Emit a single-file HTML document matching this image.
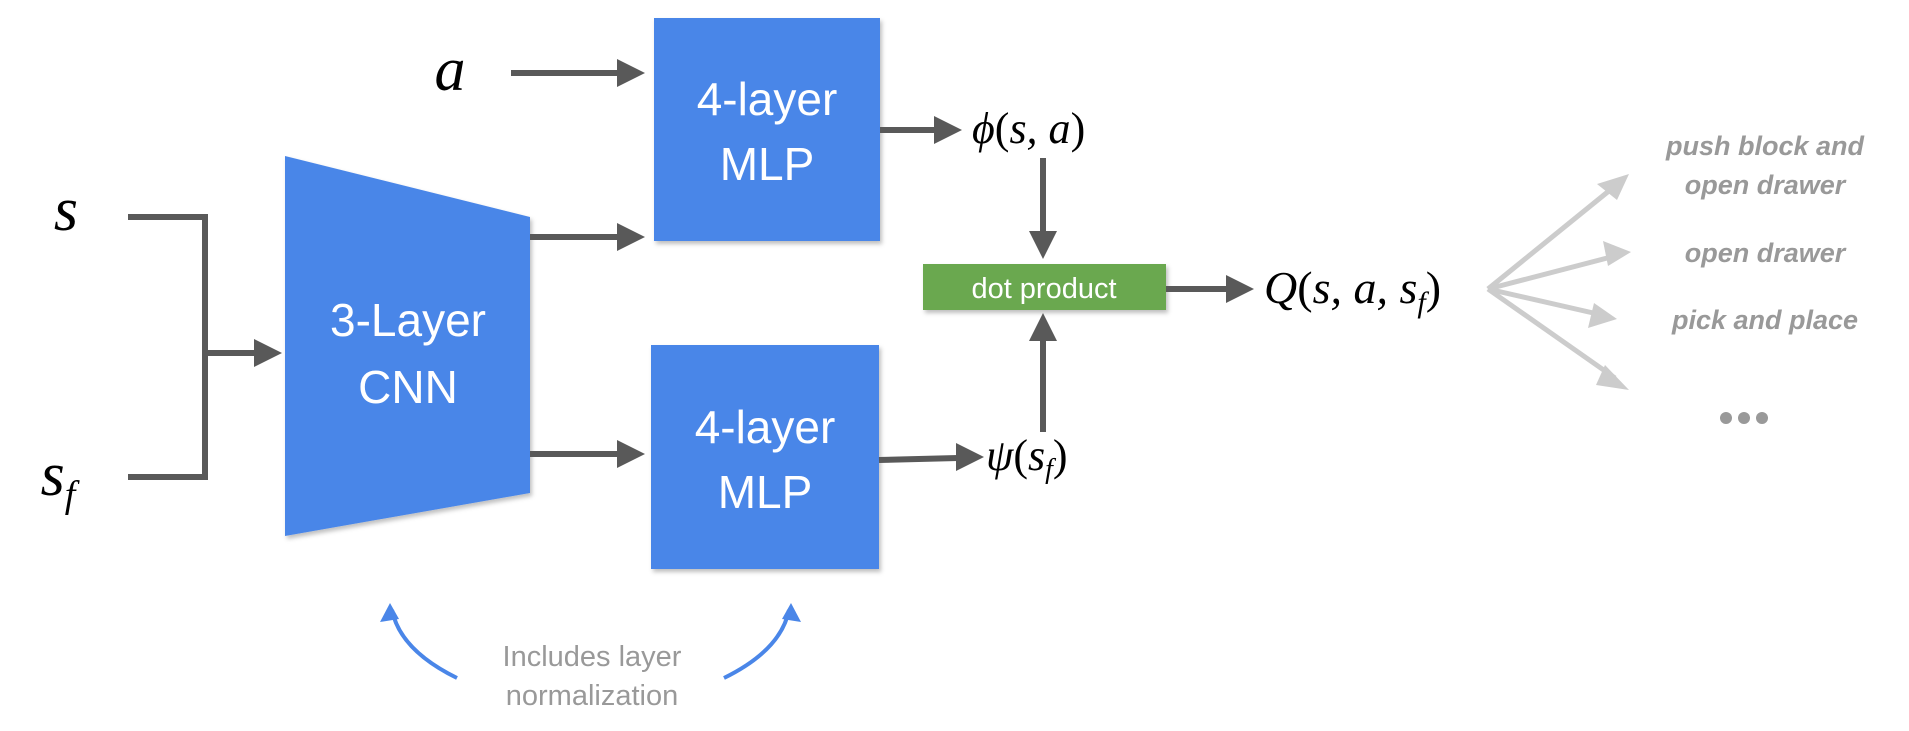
<!DOCTYPE html>
<html><head><style>
html,body{margin:0;padding:0;background:#fff;}
svg{display:block;}
</style></head><body>
<svg width="1909" height="731" viewBox="0 0 1909 731" xmlns="http://www.w3.org/2000/svg">
<defs>
<marker id="ah" markerWidth="10" markerHeight="10" refX="8" refY="5" orient="auto" markerUnits="userSpaceOnUse" viewBox="0 0 10 10">
</marker>
<filter id="sh" x="-10%" y="-10%" width="130%" height="130%"><feDropShadow dx="2" dy="3" stdDeviation="2" flood-color="#000" flood-opacity="0.25"/></filter>
</defs>
<g fill="#4a86e8" filter="url(#sh)">
<rect x="654" y="18" width="226" height="223"/>
<rect x="651" y="345" width="228" height="224"/>
<polygon points="285,156 530,217 530,493 285,536"/>
</g>
<rect x="923" y="264" width="243" height="46" fill="#6aa84f" filter="url(#sh)"/>
<g font-family="Liberation Sans, DejaVu Sans, sans-serif" fill="#fff" text-anchor="middle" font-size="46">
<text x="767" y="115">4-layer</text><text x="767" y="180">MLP</text>
<text x="765" y="443">4-layer</text><text x="765" y="508">MLP</text>
<text x="408" y="336">3-Layer</text><text x="408" y="403">CNN</text>
<text x="1044" y="298" font-size="29">dot product</text>
</g>
<g stroke="#595959" stroke-width="6" fill="none">
<polyline points="128,217 205,217 205,477 128,477"/>
<line x1="205" y1="353" x2="256" y2="353"/>
<line x1="511" y1="73" x2="618" y2="73"/>
<line x1="530" y1="237" x2="618" y2="237"/>
<line x1="530" y1="454" x2="618" y2="454"/>
<line x1="880" y1="130" x2="935" y2="130"/>
<line x1="879" y1="460" x2="958" y2="458"/>
<line x1="1043" y1="158" x2="1043" y2="232"/>
<line x1="1043" y1="432" x2="1043" y2="340"/>
<line x1="1166" y1="289" x2="1228" y2="289"/>
</g>
<g fill="#595959">
<polygon points="282,353 254,339 254,367"/>
<polygon points="645,73 617,59 617,87"/>
<polygon points="645,237 617,223 617,251"/>
<polygon points="645,454 617,440 617,468"/>
<polygon points="962,130 934,116 934,144"/>
<polygon points="984,457 956,443 956,471"/>
<polygon points="1043,259 1029,231 1057,231"/>
<polygon points="1043,313 1029,341 1057,341"/>
<polygon points="1254,289 1226,275 1226,303"/>
</g>
<g font-family="Liberation Serif, DejaVu Serif, serif" font-style="italic" fill="#000">
<text x="450" y="90" font-size="62" text-anchor="middle">a</text>
<text x="66" y="230" font-size="62" text-anchor="middle">s</text>
<text x="58" y="495" font-size="62" text-anchor="middle">s<tspan font-size="38" dy="12">f</tspan></text>
<text x="972" y="143" font-size="44">ϕ<tspan font-style="normal">(</tspan>s, a<tspan font-style="normal">)</tspan></text>
<text x="986" y="470" font-size="44">ψ<tspan font-style="normal">(</tspan>s<tspan font-size="28" dy="8">f</tspan><tspan font-style="normal" dy="-8">)</tspan></text>
<text x="1264" y="303" font-size="46">Q<tspan font-style="normal">(</tspan>s, a, s<tspan font-size="30" dy="9">f</tspan><tspan font-style="normal" dy="-9">)</tspan></text>
</g>
<g stroke="#cccccc" stroke-width="5" fill="none">
<line x1="1488" y1="289" x2="1615" y2="186"/>
<line x1="1488" y1="289" x2="1615" y2="256"/>
<line x1="1488" y1="289" x2="1602" y2="315"/>
<line x1="1488" y1="289" x2="1615" y2="378"/>
</g>
<g fill="#cccccc">
<polygon points="1629,174 1597,184 1617,200"/>
<polygon points="1631,252 1603,241 1608,266"/>
<polygon points="1617,319 1594,303 1588,328"/>
<polygon points="1629,390 1605,365 1596,385"/>
</g>
<g font-family="Liberation Sans, DejaVu Sans, sans-serif" font-style="italic" font-weight="bold" fill="#999" font-size="27" text-anchor="middle">
<text x="1765" y="155">push block and</text>
<text x="1765" y="194">open drawer</text>
<text x="1765" y="262">open drawer</text>
<text x="1765" y="329">pick and place</text>
</g>
<g fill="#999"><circle cx="1726" cy="418" r="6"/><circle cx="1744" cy="418" r="6"/><circle cx="1762" cy="418" r="6"/></g>
<g stroke="#4a86e8" stroke-width="4" fill="none">
<path d="M457,678 Q400,650 392,610"/>
<path d="M724,678 Q781,650 789,610"/>
</g>
<g fill="#4a86e8">
<polygon points="390,603 380,622 399,619"/>
<polygon points="791,603 782,619 801,622"/>
</g>
<g font-family="Liberation Sans, DejaVu Sans, sans-serif" fill="#999" font-size="29" text-anchor="middle">
<text x="592" y="666">Includes layer</text>
<text x="592" y="705">normalization</text>
</g>
</svg>
</body></html>
